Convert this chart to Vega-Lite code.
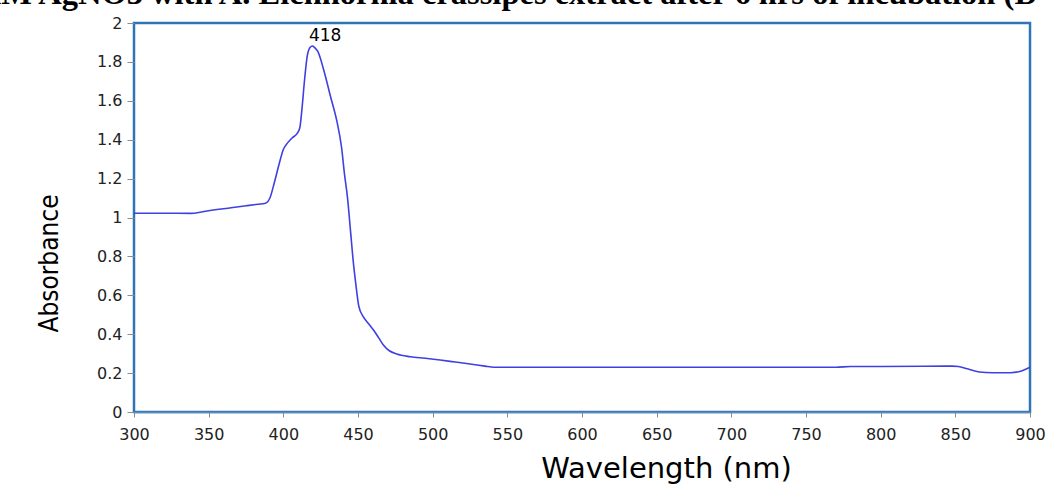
{
  "$schema": "https://vega.github.io/schema/vega-lite/v6.json",
  "width": 896,
  "height": 389,
  "autosize": {"type": "none"},
  "padding": {"left": 134, "top": 23, "right": 24, "bottom": 73},
  "background": "white",
  "title": {
    "text": "mM AgNO3 with A. Eichhornia crassipes extract after 6 hrs of incubation (D",
    "font": "Liberation Serif",
    "fontSize": 32.5,
    "fontWeight": "bold",
    "color": "black",
    "anchor": "middle",
    "frame": "group",
    "baseline": "bottom",
    "offset": 2,
    "dx": -76,
    "dy": 30
  },
  "config": {
    "view": {"stroke": "#2E75B6", "strokeWidth": 2.5},
    "axis": {"grid": false, "labelFont": "DejaVu Sans", "labelFontSize": 16, "labelColor": "#222222", "tickColor": "#8C8C8C", "titleColor": "black", "titleFontWeight": "normal", "labelOverlap": false}
  },
  "layer": [
    {
      "data": {"values": [
        {"wavelength": 300, "absorbance": 1.022},
        {"wavelength": 320, "absorbance": 1.022},
        {"wavelength": 338, "absorbance": 1.021},
        {"wavelength": 345, "absorbance": 1.028},
        {"wavelength": 350, "absorbance": 1.035},
        {"wavelength": 365, "absorbance": 1.05},
        {"wavelength": 375, "absorbance": 1.06},
        {"wavelength": 383, "absorbance": 1.068},
        {"wavelength": 388, "absorbance": 1.073},
        {"wavelength": 391, "absorbance": 1.1},
        {"wavelength": 394, "absorbance": 1.18},
        {"wavelength": 397, "absorbance": 1.27},
        {"wavelength": 400, "absorbance": 1.35},
        {"wavelength": 403, "absorbance": 1.385},
        {"wavelength": 406, "absorbance": 1.41},
        {"wavelength": 409, "absorbance": 1.43},
        {"wavelength": 411, "absorbance": 1.46},
        {"wavelength": 412.5, "absorbance": 1.56},
        {"wavelength": 414, "absorbance": 1.69},
        {"wavelength": 416, "absorbance": 1.83},
        {"wavelength": 418, "absorbance": 1.875},
        {"wavelength": 419.5, "absorbance": 1.882},
        {"wavelength": 421, "absorbance": 1.873},
        {"wavelength": 423, "absorbance": 1.855},
        {"wavelength": 427, "absorbance": 1.76},
        {"wavelength": 431.5, "absorbance": 1.625},
        {"wavelength": 436, "absorbance": 1.49},
        {"wavelength": 439, "absorbance": 1.36},
        {"wavelength": 441, "absorbance": 1.22},
        {"wavelength": 443, "absorbance": 1.1},
        {"wavelength": 445, "absorbance": 0.93},
        {"wavelength": 447, "absorbance": 0.76},
        {"wavelength": 448.5, "absorbance": 0.66},
        {"wavelength": 450.5, "absorbance": 0.545},
        {"wavelength": 453.5, "absorbance": 0.49},
        {"wavelength": 457, "absorbance": 0.455},
        {"wavelength": 460.5, "absorbance": 0.42},
        {"wavelength": 464, "absorbance": 0.38},
        {"wavelength": 467, "absorbance": 0.345},
        {"wavelength": 471, "absorbance": 0.315},
        {"wavelength": 476, "absorbance": 0.298},
        {"wavelength": 485, "absorbance": 0.284},
        {"wavelength": 495, "absorbance": 0.276},
        {"wavelength": 505, "absorbance": 0.267},
        {"wavelength": 515, "absorbance": 0.257},
        {"wavelength": 525, "absorbance": 0.247},
        {"wavelength": 535, "absorbance": 0.236},
        {"wavelength": 541, "absorbance": 0.23},
        {"wavelength": 600, "absorbance": 0.23},
        {"wavelength": 700, "absorbance": 0.23},
        {"wavelength": 770, "absorbance": 0.23},
        {"wavelength": 780, "absorbance": 0.234},
        {"wavelength": 800, "absorbance": 0.234},
        {"wavelength": 848, "absorbance": 0.236},
        {"wavelength": 852, "absorbance": 0.234},
        {"wavelength": 858, "absorbance": 0.222},
        {"wavelength": 866, "absorbance": 0.206},
        {"wavelength": 875, "absorbance": 0.202},
        {"wavelength": 887, "absorbance": 0.202},
        {"wavelength": 893, "absorbance": 0.208},
        {"wavelength": 900, "absorbance": 0.23}
      ]},
      "mark": {"type": "line", "color": "#4040E0", "strokeWidth": 1.6, "interpolate": "monotone"},
      "encoding": {
        "x": {
          "field": "wavelength", "type": "quantitative",
          "scale": {"domain": [300, 900], "nice": false, "zero": false},
          "axis": {
            "title": "Wavelength (nm)", "values": [300, 350, 400, 450, 500, 550, 600, 650, 700, 750, 800, 850, 900],
            "tickCount": 20,
            "domainColor": "#5B8DB8", "domainWidth": 1.5, "tickSize": 5, "labelPadding": 9,
            "titleFont": "DejaVu Sans", "titleFontSize": 29, "titlePadding": 12, "titleX": 532, "labelFlush": false
          }
        },
        "y": {
          "field": "absorbance", "type": "quantitative",
          "scale": {"domain": [0, 2], "nice": false},
          "axis": {
            "title": "Absorbance", "values": [0, 0.2, 0.4, 0.6, 0.8, 1, 1.2, 1.4, 1.6, 1.8, 2],
            "tickCount": 20,
            "labelExpr": "datum.value + ''",
            "domain": false, "tickSize": 7, "labelPadding": 5,
            "titleFont": "DejaVu Sans Condensed", "titleFontSize": 26, "titlePadding": 34, "titleY": 240, "labelFlush": false
          }
        }
      }
    },
    {
      "data": {"values": [{"wavelength": 428, "absorbance": 1.935, "label": "418"}]},
      "mark": {"type": "text", "font": "DejaVu Sans", "fontSize": 17, "color": "#000000", "baseline": "middle", "align": "center"},
      "encoding": {
        "x": {"field": "wavelength", "type": "quantitative"},
        "y": {"field": "absorbance", "type": "quantitative"},
        "text": {"field": "label", "type": "nominal"}
      }
    }
  ]
}
